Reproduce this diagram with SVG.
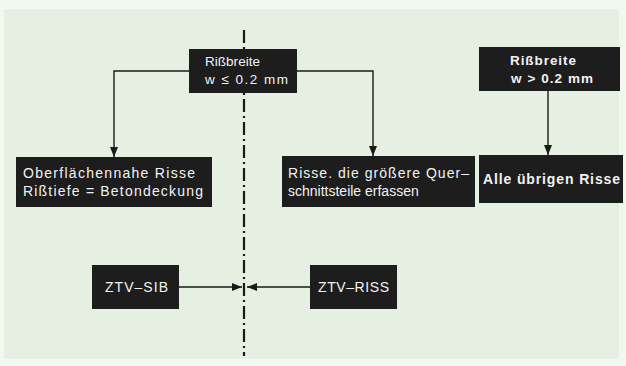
<svg xmlns="http://www.w3.org/2000/svg" width="626" height="366" viewBox="0 0 626 366">
<defs>
<style>
.bg{fill:#f2f7f0}
.page{fill:#e5f0e2}
.box{fill:#1d1d1d}
.t{fill:#f2f2f2;font-family:"Liberation Sans",Arial,sans-serif;font-size:14px}
.s{font-size:13.5px}
.b{font-weight:bold}
.ln{stroke:#1a1a1a;stroke-width:1.4;fill:none}
.axis{stroke:#1a1a1a;stroke-width:2.2;fill:none;stroke-dasharray:13 4 2 4}
</style>
<marker id="ah" viewBox="0 0 10 8" refX="10" refY="4" markerWidth="10" markerHeight="8" markerUnits="userSpaceOnUse" orient="auto">
<path d="M0,0 L10,4 L0,8 Z" fill="#1a1a1a"/>
</marker>
</defs>
<rect class="bg" x="0" y="0" width="626" height="366"/>
<rect class="page" x="4" y="9" width="615" height="350"/>

<g id="connectors">
<line class="axis" x1="244" y1="30" x2="244" y2="356"/>
<polyline class="ln" points="189,71 114,71 114,157" marker-end="url(#ah)"/>
<polyline class="ln" points="297,71 373,71 373,156" marker-end="url(#ah)"/>
<line class="ln" x1="548" y1="91" x2="548" y2="155" marker-end="url(#ah)"/>
<line class="ln" x1="179" y1="287" x2="242" y2="287" marker-end="url(#ah)"/>
<line class="ln" x1="310" y1="287" x2="247" y2="287" marker-end="url(#ah)"/>
</g>

<g id="n1">
<rect class="box" x="189" y="49" width="108" height="44"/>
<text class="t s" x="205" y="66" textLength="55" lengthAdjust="spacing">Rißbreite</text>
<text class="t s" x="205" y="84" textLength="83" lengthAdjust="spacing">w ≤ 0.2 mm</text>
</g>

<g id="n2">
<rect class="box" x="479" y="47" width="141" height="44"/>
<text class="t s b" x="510" y="65" textLength="66" lengthAdjust="spacing">Rißbreite</text>
<text class="t s b" x="511" y="83" textLength="82" lengthAdjust="spacing">w &gt; 0.2 mm</text>
</g>

<g id="n3">
<rect class="box" x="16" y="157" width="196" height="50"/>
<text class="t" x="23" y="178" textLength="172" lengthAdjust="spacing">Oberflächennahe Risse</text>
<text class="t" x="23" y="196" textLength="180" lengthAdjust="spacing">Rißtiefe = Betondeckung</text>
</g>

<g id="n4">
<rect class="box" x="282" y="156" width="193" height="51"/>
<text class="t" x="288" y="178" textLength="181" lengthAdjust="spacing">Risse. die größere Quer–</text>
<text class="t" x="288" y="196">schnittsteile erfassen</text>
</g>

<g id="n5">
<rect class="box" x="479" y="155" width="144" height="48"/>
<text class="t b" x="483" y="184" textLength="137" lengthAdjust="spacing">Alle übrigen Risse</text>
</g>

<g id="n6">
<rect class="box" x="92" y="265" width="87" height="44"/>
<text class="t" x="105" y="292" textLength="63" lengthAdjust="spacing">ZTV–SIB</text>
</g>

<g id="n7">
<rect class="box" x="310" y="265" width="87" height="44"/>
<text class="t" x="318" y="292" textLength="71" lengthAdjust="spacing">ZTV–RISS</text>
</g>
</svg>
